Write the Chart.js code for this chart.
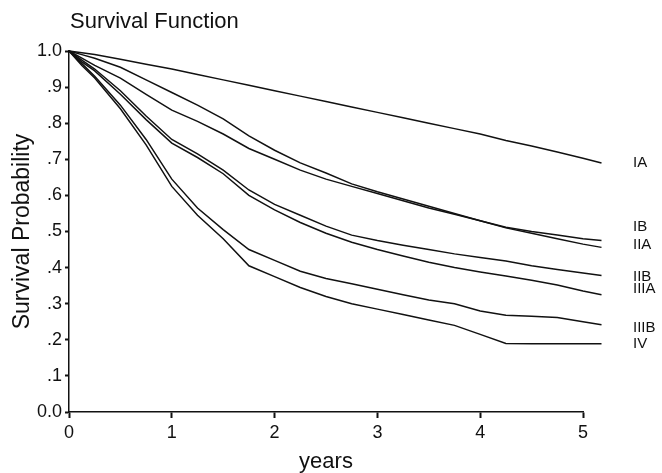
<!DOCTYPE html>
<html>
<head>
<meta charset="utf-8">
<script src="https://cdn.jsdelivr.net/npm/chart.js@4/dist/chart.umd.min.js"></script>
<style>
  html, body { margin: 0; padding: 0; background: #fff; }
  #wrap { width: 662px; height: 473px; }
</style>
</head>
<body>
<div id="wrap"><canvas id="chart"></canvas></div>
<script>
// time points (years) shared by all curves
const years = [0, 0.125, 0.25, 0.5, 0.75, 1, 1.25, 1.5, 1.75, 2, 2.25, 2.5, 2.75, 3, 3.25, 3.5, 3.75, 4, 4.25, 4.5, 4.75, 5, 5.18];

const stages = ["IA", "IB", "IIA", "IIB", "IIIA", "IIIB", "IV"];

// survival probability per stage
const survIA   = [1, .995, .99, .977, .963, .95, .935, .92, .905, .89, .875, .86, .845, .83, .815, .80, .785, .77, .752, .737, .72, .703, .69];
const survIB   = [1, .99, .98, .955, .92, .885, .85, .812, .765, .725, .69, .662, .632, .61, .59, .57, .55, .53, .512, .50, .49, .48, .475];
const survIIA  = [1, .98, .96, .925, .88, .836, .805, .77, .73, .70, .67, .645, .625, .605, .585, .565, .548, .53, .51, .495, .48, .465, .456];
const survIIB  = [1, .975, .95, .89, .82, .755, .715, .67, .615, .575, .545, .515, .49, .475, .462, .45, .438, .428, .418, .405, .395, .385, .378];
const survIIIA = [1, .97, .945, .88, .81, .745, .705, .66, .60, .56, .525, .495, .47, .45, .432, .415, .40, .388, .377, .365, .352, .335, .325];
const survIIIB = [1, .965, .93, .85, .755, .645, .565, .505, .45, .42, .39, .37, .355, .34, .325, .31, .30, .28, .268, .265, .262, .25, .242];
const survIV   = [1, .96, .925, .84, .74, .625, .545, .48, .405, .375, .345, .32, .30, .285, .27, .255, .24, .215, .19, .189, .189, .189, .189];

const allSurv = [survIA, survIB, survIIA, survIIB, survIIIA, survIIIB, survIV];

// label nudges (px) so stacked stage names do not collide
const labelShift = [0, -14, -3, 1, -6, 3, 0];

const FONT = '"Liberation Sans", Arial, Helvetica, sans-serif';

const endLabels = {
  id: 'endLabels',
  afterDatasetsDraw(chart) {
    const { ctx, chartArea, scales } = chart;
    ctx.save();
    ctx.fillStyle = '#111';
    ctx.textBaseline = 'middle';
    ctx.textAlign = 'left';
    ctx.font = '22px ' + FONT;
    ctx.fillText('Survival Function', chartArea.left + 1, 22);
    ctx.font = '15px ' + FONT;
    chart.data.datasets.forEach((ds, i) => {
      const last = ds.data[ds.data.length - 1];
      ctx.fillText(ds.label, chartArea.right + 50, scales.y.getPixelForValue(last.y) + labelShift[i]);
    });
    ctx.restore();
  }
};

const ctx = document.getElementById('chart').getContext('2d');
new Chart(ctx, {
  type: 'line',
  data: {
    datasets: stages.map((s, i) => ({
      label: s,
      data: years.map((t, j) => ({ x: t, y: allSurv[i][j] })),
      borderColor: '#111',
      borderWidth: 1.5,
      pointRadius: 0,
      tension: 0,
      fill: false,
      clip: false
    }))
  },
  options: {
    responsive: true,
    maintainAspectRatio: false,
    animation: false,
    layout: { padding: { top: 51, right: 79, left: 0, bottom: 0 } },
    plugins: {
      legend: { display: false },
      title: { display: false },
      tooltip: { enabled: false }
    },
    scales: {
      x: {
        type: 'linear',
        // axis stops at 5 years, curves run a little past it
        afterDataLimits: (scale) => { scale.min = 0; scale.max = 5; },
        afterFit: (scale) => { scale.height = 61; },
        ticks: {
          stepSize: 1,
          color: '#111',
          padding: 4,
          font: { family: FONT, size: 18 }
        },
        grid: { drawOnChartArea: false, color: '#111', tickLength: 6, tickWidth: 2 },
        border: { color: '#111', width: 1.5 },
        title: {
          display: true,
          text: 'years',
          color: '#111',
          padding: { top: 0, bottom: -2 },
          font: { family: FONT, size: 22 }
        }
      },
      y: {
        min: 0,
        max: 1,
        afterFit: (scale) => { scale.width = 69; },
        ticks: {
          stepSize: 0.1,
          color: '#111',
          padding: 3,
          font: { family: FONT, size: 18 },
          callback: (v) => {
            if (v === 0) return '0.0';
            if (v === 1) return '1.0';
            return v.toFixed(1).replace(/^0/, '');
          }
        },
        grid: { drawOnChartArea: false, color: '#111', tickLength: 4, tickWidth: 2 },
        border: { color: '#111', width: 1.5 },
        title: {
          display: true,
          text: 'Survival Probability',
          color: '#111',
          padding: { top: 9, bottom: 0 },
          font: { family: FONT, size: 23 }
        }
      }
    }
  },
  plugins: [endLabels]
});
</script>
</body>
</html>
